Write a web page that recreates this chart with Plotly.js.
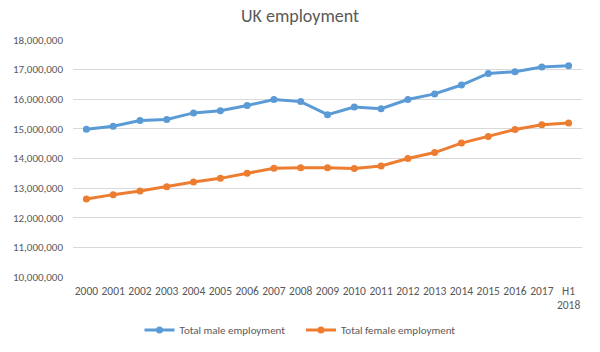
<!DOCTYPE html>
<html>
<head>
<meta charset="utf-8">
<script src="https://cdn.plot.ly/plotly-3.0.1.min.js"></script>
<style>html,body{margin:0;padding:0;background:#fff;}#chart{width:600px;height:352px;}</style>
</head>
<body>
<div id="chart"></div>
<script>
const years = ["2000","2001","2002","2003","2004","2005","2006","2007","2008","2009","2010","2011","2012","2013","2014","2015","2016","2017","H1<br>2018"];
const maleEmployment = [14990000,15090000,15280000,15320000,15540000,15610000,15790000,15990000,15920000,15480000,15740000,15680000,15990000,16180000,16480000,16870000,16930000,17090000,17130000];
const femaleEmployment = [12630000,12780000,12900000,13050000,13210000,13330000,13500000,13670000,13690000,13690000,13660000,13750000,14000000,14200000,14520000,14740000,14980000,15140000,15200000];
const yTicks = [10000000,11000000,12000000,13000000,14000000,15000000,16000000,17000000,18000000];
const seriesNames = ["Total male employment", "Total female employment"];

const font = "Calibri, Carlito, 'Open Sans', 'Liberation Sans', sans-serif";
const traces = [
  {x: years, y: maleEmployment, name: seriesNames[0] + "\u2003", type: "scatter", mode: "lines+markers",
   line: {color: "#5B9BD5", width: 3}, marker: {color: "#5B9BD5", size: 7}},
  {x: years, y: femaleEmployment, name: seriesNames[1], type: "scatter", mode: "lines+markers",
   line: {color: "#ED7D31", width: 3}, marker: {color: "#ED7D31", size: 7}}
];
const layout = {
  width: 600, height: 352,
  margin: {l: 73, r: 18, t: 40, b: 75},
  paper_bgcolor: "#fff", plot_bgcolor: "#fff",
  font: {family: font, color: "#595959", size: 11},
  title: {text: "UK employment", x: 0.5, xanchor: "center", y: 0.955, yanchor: "middle",
          font: {family: font, size: 18, color: "#595959"}},
  xaxis: {type: "category", range: [-0.5, years.length - 0.5], showgrid: false, zeroline: false, showline: false,
          ticks: "", ticklabelstandoff: 5, tickangle: 0, tickfont: {size: 11.5, color: "#595959"}, fixedrange: true, automargin: false},
  yaxis: {range: [10000000, 18000000], tickvals: yTicks, tickformat: ",d",
          showgrid: true, gridcolor: "#d9d9d9", gridwidth: 1, zeroline: false, showline: false,
          ticks: "", ticklabelstandoff: 9, tickfont: {size: 11, color: "#595959"}, automargin: false},
  showlegend: true,
  legend: {orientation: "h", x: 0.446, xanchor: "center", yref: "container", y: 0.0625, yanchor: "middle",
           font: {size: 11, color: "#595959"}, itemwidth: 30, traceorder: "normal"}
};
Plotly.newPlot("chart", traces, layout, {displayModeBar: false, staticPlot: true});
</script>
</body>
</html>
